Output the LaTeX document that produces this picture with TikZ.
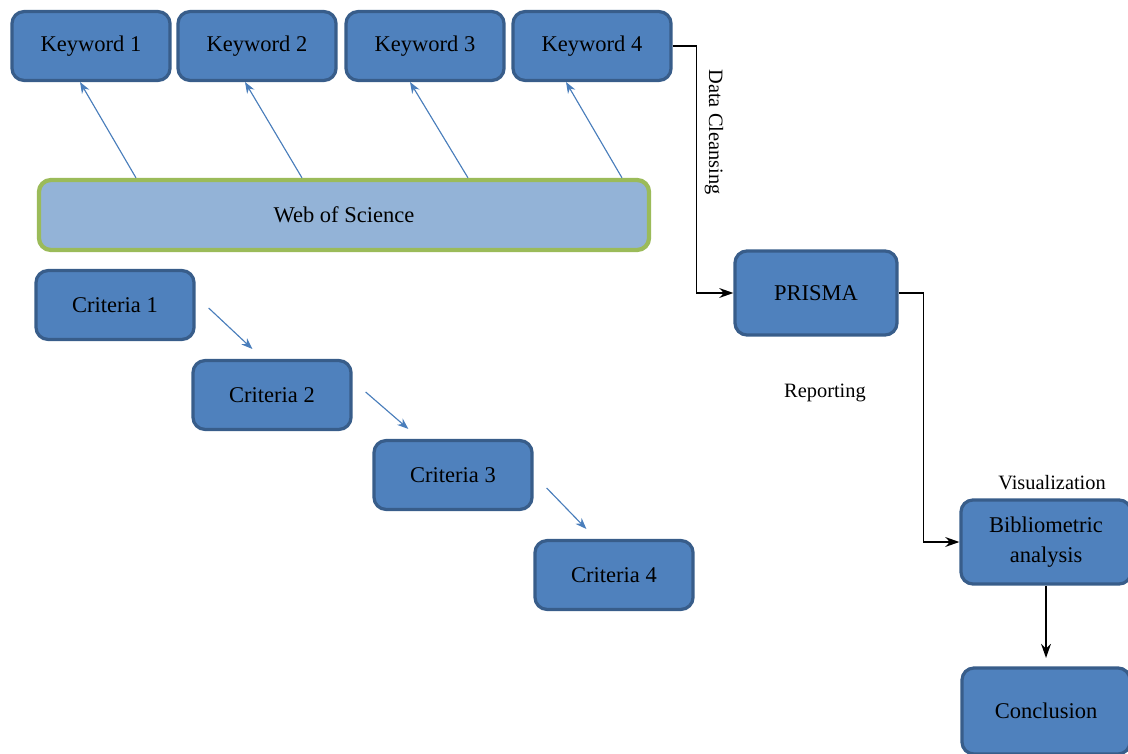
\documentclass[tikz,border=0pt]{standalone}
\usepackage{fontspec}
\setmainfont{Liberation Serif}
\usetikzlibrary{arrows.meta, calc, positioning}
\definecolor{boxblue}{HTML}{4F81BD}
\definecolor{boxedge}{HTML}{385D8A}
\definecolor{wosfill}{HTML}{93B3D7}
\definecolor{wosedge}{HTML}{9BBB59}
\definecolor{linkblue}{HTML}{4A7EBB}
\tikzstyle{arrow} = [line width=1.1pt,->,>={Stealth[length=10pt,width=7pt]}]
\tikzstyle{link} = [line width=0.8pt,->,>={Stealth[length=8pt,width=6pt]},draw=linkblue,fill=linkblue]
\tikzstyle{state} = [rectangle, rounded corners=0.3cm, minimum width=3.95cm, minimum height=1.72cm, text centered, draw=boxedge, line width=2.3pt, fill=boxblue, align=center, font=\fontsize{16}{21}\selectfont]

\begin{document}
\begin{tikzpicture}[x=0.025cm, y=-0.025cm,
        note/.style={font=\fontsize{14.5}{17}\selectfont, inner sep=0pt}]
    \useasboundingbox (0,0) rectangle (1128,754);

    % search terms
    \node [state] (kw1) at (91,46) {Keyword 1};
    \node [state] (kw2) at (257,46) {Keyword 2};
    \node [state] (kw3) at (425,46) {Keyword 3};
    \node [state] (kw4) at (592,46) {Keyword 4};
    \node [state, fill=wosfill, draw=wosedge, line width=3pt, minimum width=15.25cm, minimum height=1.75cm] (wos) at (344,215) {Web of Science};

    % criteria steps
    \node [state] (crit1) at (115,305) {Criteria 1};
    \node [state] (crit2) at (272,395) {Criteria 2};
    \node [state] (crit3) at (453,475) {Criteria 3};
    \node [state] (crit4) at (614,575) {Criteria 4};

    \node [state, minimum width=4.05cm, minimum height=2.1cm] (prisma) at (816,293) {PRISMA};
    \node [state, minimum width=4.25cm, minimum height=2.1cm] (biblio) at (1046,542) {Bibliometric\\analysis};
    \node [state, minimum width=4.2cm, minimum height=2.15cm] (concl) at (1046,711) {Conclusion};

    \node [note, rotate=-90] (cleanse) at (714,132) {Data Cleansing};
    \node [note] (report) at (825,393) {Reporting};
    \node [note] (visual) at (1052,483) {Visualization};

    \foreach \i/\xa/\xb in {1/136/80, 2/302/245, 3/468/410, 4/622/566}
        \draw[link] (wos.north -| \xa,0) -- (kw\i.south -| \xb,0);
    \foreach \a/\b/\dy/\ex in {crit1/crit2/3/61, crit2/crit3/-3/36, crit3/crit4/13/53}
        \draw[link] ($(\a.east)+(13,\dy)$) -- ($(\b.north west)+(\ex,-10)$);

    \draw[arrow] (kw4.east) -- ++(24,0) |- (prisma.west);
    \draw[arrow] (prisma.east) -- ++(25,0) |- (biblio.west);
    \draw[arrow, shorten >=6pt] (biblio.south) -- (concl.north);
\end{tikzpicture}
\end{document}
